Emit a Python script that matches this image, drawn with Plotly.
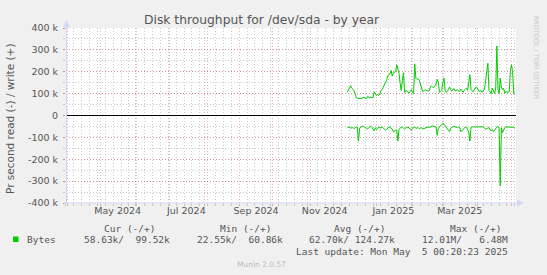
import pandas as pd
import plotly.graph_objects as go

# ---------------- data ----------------
start_date = "2024-12-06"          # first daily sample
range_start = "2024-03-31 00:20"
range_end = "2025-05-05 00:20"

# write (+) bytes per second, in k
write_k = [
    106, 115, 130, 136, 125, 118, 115, 100, 82, 78,
    78, 80, 80, 78, 82, 83, 80, 76, 88, 85,
    80, 84, 80, 85, 108, 98, 92, 96, 92, 98,
    115, 120, 130, 145, 150, 160, 182, 185, 190, 206,
    180, 195, 198, 200, 232, 205, 194, 148, 115, 160,
    195, 105, 115, 112, 105, 103, 110, 118, 105, 100,
    236, 170, 165, 168, 162, 140, 118, 110, 112, 118,
    115, 112, 115, 115, 132, 135, 130, 128, 135, 145,
    165, 150, 106, 110, 115, 150, 171, 115, 105, 110,
    120, 130, 118, 112, 120, 122, 112, 114, 118, 112,
    110, 120, 112, 106, 115, 122, 125, 115, 160, 186,
    120, 112, 108, 118, 128, 130, 120, 112, 110, 115,
    106, 112, 120, 160, 215, 239, 115, 105, 100, 125,
    110, 100, 126, 318, 120, 100, 171, 130, 118, 125,
    102, 110, 106, 108, 108, 205, 232, 200, 100, 99.52,
]
# read (-) bytes per second, in k (magnitude)
read_k = [
    56, 53, 52, 58, 58, 55, 60, 57, 52, 55,
    117, 58, 53, 50, 48, 52, 53, 56, 62, 57,
    52, 49, 55, 62, 70, 56, 64, 60, 52, 58,
    56, 52, 57, 62, 67, 64, 58, 52, 54, 58,
    62, 75, 70, 68, 66, 117, 64, 58, 52, 54,
    60, 62, 57, 54, 52, 58, 61, 66, 58, 54,
    52, 57, 58, 55, 60, 58, 55, 62, 60, 58,
    55, 54, 52, 55, 52, 50, 48, 50, 52, 53,
    91, 60, 52, 46, 42, 36, 40, 48, 56, 62,
    70, 74, 58, 53, 51, 50, 52, 53, 56, 52,
    55, 75, 68, 63, 56, 52, 54, 64, 75, 117,
    56, 52, 52, 52, 50, 52, 52, 52, 52, 52,
    53, 52, 56, 64, 60, 57, 55, 64, 71, 64,
    74, 68, 56, 52, 50, 58, 321, 56, 79, 62,
    56, 52, 52, 52, 52, 54, 55, 52, 54, 58.63,
]

y_tickvals = [400000, 300000, 200000, 100000, 0, -100000, -200000, -300000, -400000]
y_ticktext = ["400 k", "300 k", "200 k", "100 k", "0", "-100 k", "-200 k", "-300 k", "-400 k"]
x_tickvals = ["2024-05-16", "2024-07-16", "2024-09-16", "2024-11-16", "2025-01-16", "2025-03-16"]
x_ticktext = ["May 2024", "Jul 2024", "Sep 2024", "Nov 2024", "Jan 2025", "Mar 2025"]

legend_headers = ["Cur (-/+)", "Min (-/+)", "Avg (-/+)", "Max (-/+)"]
legend_values = ["58.63k/  99.52k", "22.55k/  60.86k", "62.70k/ 124.27k", "12.01M/   6.48M"]
series_name = "Bytes"
last_update = "Last update: Mon May  5 00:20:23 2025"
title = "Disk throughput for /dev/sda - by year"
ytitle = "Pr second read (-) / write (+)"

# ---------------- style ----------------
W, H = 547, 275
L, R, T, B = 66, 516, 28, 203
BACK = "#F0F0F0"
FONT = "#555555"
MGRID = "rgba(222,79,79,0.45)"
GRID = "rgba(150,150,150,0.5)"
AXIS = "#CFD6F8"
GREEN = "#00CC00"
DASH = "1px,2px"


def px(x):
    return (x - L) / (R - L)


def py(y):
    return (B - y) / (B - T)


dates = pd.date_range(start_date, periods=len(write_k), freq="D")
write = [v * 1000 for v in write_k]
read = [-v * 1000 for v in read_k]

fig = go.Figure()
fig.add_trace(go.Scatter(x=dates, y=write, mode="lines", xaxis="x",
                         line=dict(color=GREEN, width=1), hoverinfo="skip"))
fig.add_trace(go.Scatter(x=dates, y=read, mode="lines", xaxis="x2",
                         line=dict(color=GREEN, width=1), hoverinfo="skip"))

mono = "DejaVu Sans Mono"
sans = "DejaVu Sans"
ann = []
ann.append(dict(text=title, x=px(262), y=py(20), font=dict(family=sans, size=12.3, color=FONT)))
ann.append(dict(text=ytitle, x=px(10), y=py(119), textangle=-90,
                font=dict(family=sans, size=10.5, color=FONT)))
ann.append(dict(text="RRDTOOL / TOBI OETIKER", x=px(535.5), y=py(57), textangle=90,
                font=dict(family=sans, size=6.5, color="#C8C8C8")))
for txt, xr in zip(legend_headers, [157, 273, 387, 503]):
    ann.append(dict(text=txt.replace(" ", "\u00a0"), x=px(xr), y=py(228), xanchor="right",
                    font=dict(family=mono, size=9.5, color=FONT)))
ann.append(dict(text=series_name, x=px(25), y=py(239.5), xanchor="left",
                font=dict(family=mono, size=9.5, color=FONT)))
for txt, xr in zip(legend_values, [172, 285, 397, 510]):
    ann.append(dict(text=txt.replace(" ", "\u00a0"), x=px(xr), y=py(239.5), xanchor="right",
                    font=dict(family=mono, size=9.5, color=FONT)))
ann.append(dict(text=last_update.replace(" ", "\u00a0"), x=px(510), y=py(251.7), xanchor="right",
                font=dict(family=mono, size=9.5, color=FONT)))
ann.append(dict(text="Munin 2.0.57", x=px(261), y=py(264),
                font=dict(family=sans, size=7.5, color="#BBBBBB")))
for a in ann:
    a.setdefault("xanchor", "center")
    a.update(xref="paper", yref="paper", yanchor="middle", showarrow=False)

shapes = [
    # legend colour box
    dict(type="rect", xref="paper", yref="paper", x0=px(13), x1=px(18.5), y0=py(242), y1=py(236.5),
         fillcolor=GREEN, line=dict(width=0)),
    # axis extensions and arrow heads
    dict(type="line", xref="paper", yref="paper", x0=px(66.5), x1=px(66.5), y0=py(203), y1=py(25),
         line=dict(color=AXIS, width=1)),
    dict(type="path", xref="paper", yref="paper",
         path=f"M {px(66.5)},{py(20.5)} L {px(63.5)},{py(27)} L {px(69.5)},{py(27)} Z",
         fillcolor=AXIS, line=dict(color=AXIS, width=0.5)),
    dict(type="line", xref="paper", yref="paper", x0=px(64), x1=px(519), y0=py(203), y1=py(203),
         line=dict(color=AXIS, width=1)),
    dict(type="path", xref="paper", yref="paper",
         path=f"M {px(523.5)},{py(203)} L {px(517.5)},{py(200)} L {px(517.5)},{py(206)} Z",
         fillcolor=AXIS, line=dict(color=AXIS, width=0.5)),
]

fig.update_layout(
    width=W, height=H,
    margin=dict(l=L, r=W - R, t=T, b=H - B, pad=0),
    paper_bgcolor=BACK, plot_bgcolor="#FFFFFF",
    showlegend=False,
    font=dict(family=sans, size=9.5, color=FONT),
    annotations=ann, shapes=shapes,
    xaxis=dict(type="date", range=[range_start, range_end], fixedrange=True,
               tickmode="array", tickvals=x_tickvals, ticktext=x_ticktext,
               showgrid=False, zeroline=False, showline=False, ticks="",
               tickfont=dict(family=sans, size=9.5, color=FONT)),
    xaxis2=dict(type="date", range=[range_start, range_end], overlaying="x", anchor="y",
                side="bottom", fixedrange=True, showticklabels=False,
                dtick="M1", tick0="2024-04-01",
                showgrid=True, gridcolor=MGRID, griddash=DASH, gridwidth=1,
                ticks="outside", ticklen=2, tickcolor=MGRID,
                minor=dict(dtick=7 * 86400000, tick0="2024-04-07", showgrid=True,
                           gridcolor=GRID, griddash=DASH, gridwidth=1,
                           ticks="outside", ticklen=2, tickcolor=GRID),
                zeroline=False, showline=False),
    yaxis=dict(range=[-400000, 400000], fixedrange=True,
               tickmode="array", tickvals=y_tickvals, ticktext=y_ticktext,
               showgrid=True, gridcolor=MGRID, griddash=DASH, gridwidth=1,
               ticks="outside", ticklen=2, tickcolor=MGRID,
               minor=dict(dtick=50000, tick0=0, showgrid=True, gridcolor=GRID,
                          griddash=DASH, gridwidth=1, ticks="outside", ticklen=2, tickcolor=GRID),
               zeroline=True, zerolinecolor="#000000", zerolinewidth=1,
               showline=False, ticklabelstandoff=3,
               tickfont=dict(family=sans, size=9.5, color=FONT)),
)

fig.write_html("out.html", config=dict(displayModeBar=False, staticPlot=True))
